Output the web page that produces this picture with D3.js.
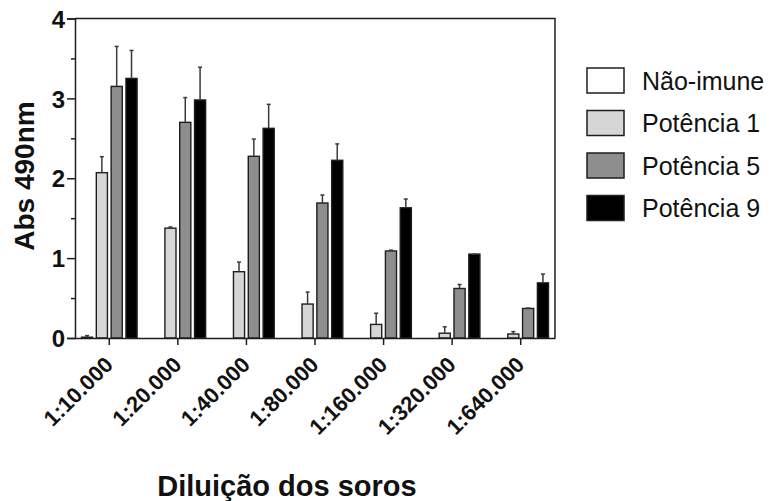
<!DOCTYPE html>
<html>
<head>
<meta charset="utf-8">
<script src="https://cdn.jsdelivr.net/npm/d3@7"></script>
<style>
  html, body { margin: 0; padding: 0; background: #fff; }
  svg { display: block; }
  text { font-family: "Liberation Sans", Arial, sans-serif; fill: #111; }
</style>
</head>
<body>
<svg id="chart" width="777" height="501"></svg>
<script>
// Dilution series on the x axis
const dilutions = ["1:10.000", "1:20.000", "1:40.000", "1:80.000", "1:160.000", "1:320.000", "1:640.000"];
// Serum groups
const groups = ["Não-imune", "Potência 1", "Potência 5", "Potência 9"];
const groupColors = ["#ffffff", "#d6d6d6", "#8e8e8e", "#000000"];

// Mean absorbance (490 nm) per group, one value per dilution
const meanNaoImune = [0.01, 0, 0, 0, 0, 0, 0];
const meanPot1 = [2.07, 1.375, 0.83, 0.425, 0.17, 0.06, 0.05];
const meanPot5 = [3.15, 2.70, 2.275, 1.69, 1.09, 0.62, 0.37];
const meanPot9 = [3.25, 2.98, 2.625, 2.225, 1.63, 1.05, 0.69];

// Standard deviation per group (upper error bar)
const sdNaoImune = [0.02, 0, 0, 0, 0, 0, 0];
const sdPot1 = [0.20, 0.015, 0.12, 0.15, 0.14, 0.08, 0.03];
const sdPot5 = [0.50, 0.31, 0.215, 0.10, 0.01, 0.05, 0.005];
const sdPot9 = [0.35, 0.41, 0.30, 0.205, 0.11, 0, 0.11];

const yTicks = [0, 1, 2, 3, 4];
const yMinorTicks = [0.5, 1.5, 2.5, 3.5];

const means = [meanNaoImune, meanPot1, meanPot5, meanPot9];
const sds = [sdNaoImune, sdPot1, sdPot5, sdPot9];

const rows = [];
dilutions.forEach((d, i) => {
  groups.forEach((g, j) => {
    rows.push({ dilution: d, group: g, gi: j, mean: means[j][i], sd: sds[j][i] });
  });
});

const svg = d3.select("#chart");
const plotLeft = 75, plotRight = 555, plotTop = 18.5, plotBottom = 338;
const ink = "#1e1e1e";

const x0 = d3.scaleBand().domain(dilutions).range([plotLeft, plotRight]).paddingInner(0).paddingOuter(0);
const x1 = d3.scaleBand().domain(groups).range([6.5, x0.bandwidth() - 6.5]).paddingInner(0.25).paddingOuter(0);
const y = d3.scaleLinear().domain([0, 4]).range([plotBottom, plotTop]);

// Bars
svg.append("g").selectAll("rect").data(rows).join("rect")
  .attr("x", d => x0(d.dilution) + x1(d.group))
  .attr("y", d => y(d.mean))
  .attr("width", x1.bandwidth())
  .attr("height", d => plotBottom - y(d.mean))
  .attr("fill", d => groupColors[d.gi])
  .attr("stroke", ink)
  .attr("stroke-width", 1.4);

// Upper error bars
const eb = svg.append("g").attr("stroke", "#3a3a3a").attr("stroke-width", 1.5);
rows.filter(d => d.sd > 0 || d.mean > 0).forEach(d => {
  const cx = x0(d.dilution) + x1(d.group) + x1.bandwidth() / 2;
  eb.append("line").attr("x1", cx).attr("x2", cx).attr("y1", y(d.mean)).attr("y2", y(d.mean + d.sd));
  eb.append("line").attr("x1", cx - 2).attr("x2", cx + 2).attr("y1", y(d.mean + d.sd)).attr("y2", y(d.mean + d.sd));
});

// Frame (top and right)
svg.append("path")
  .attr("d", `M${plotLeft},${plotTop}H${plotRight}V${plotBottom}`)
  .attr("fill", "none").attr("stroke", ink).attr("stroke-width", 1.5);

// Y axis
const yAxis = svg.append("g").attr("transform", `translate(${plotLeft},0)`)
  .call(d3.axisLeft(y).tickValues(yTicks).tickFormat(d3.format("d")).tickSize(8).tickPadding(2));
yAxis.select(".domain").attr("stroke", ink).attr("stroke-width", 1.5);
yAxis.selectAll(".tick line").attr("stroke", ink).attr("stroke-width", 1.5);
yAxis.selectAll(".tick text")
  .style("font-family", "Liberation Sans, Arial, sans-serif")
  .style("font-size", "24px").style("font-weight", "bold").attr("fill", "#111").attr("dy", "0.36em");
svg.append("g").attr("transform", `translate(${plotLeft},0)`)
  .call(d3.axisLeft(y).tickValues(yMinorTicks).tickFormat("").tickSize(4))
  .call(g => g.select(".domain").remove())
  .selectAll(".tick line").attr("stroke", ink).attr("stroke-width", 1.5);

// X axis
const xAxis = svg.append("g").attr("transform", `translate(0,${plotBottom})`)
  .call(d3.axisBottom(x0).tickSize(7).tickSizeOuter(0));
xAxis.select(".domain").attr("stroke", ink).attr("stroke-width", 1.5);
xAxis.selectAll(".tick line").attr("stroke", ink).attr("stroke-width", 1.5);
xAxis.selectAll(".tick text")
  .style("font-family", "Liberation Sans, Arial, sans-serif")
  .style("font-size", "22px").style("font-weight", "bold").attr("fill", "#111")
  .attr("text-anchor", "end")
  .attr("y", 0).attr("dy", 0)
  .attr("transform", "translate(5,28) rotate(-45)");

// Axis titles
svg.append("text")
  .attr("transform", "translate(34,176) rotate(-90)")
  .attr("text-anchor", "middle")
  .style("font-size", "28px").style("font-weight", "bold")
  .text("Abs 490nm");
svg.append("text")
  .attr("x", 287).attr("y", 496)
  .attr("text-anchor", "middle")
  .style("font-size", "29px").style("font-weight", "bold")
  .text("Diluição dos soros");

// Legend
const legend = svg.append("g").attr("transform", "translate(587,68)");
const item = legend.selectAll("g").data(groups).join("g")
  .attr("transform", (d, i) => `translate(0,${i * 42.5})`);
item.append("rect").attr("width", 37).attr("height", 25)
  .attr("fill", (d, i) => groupColors[i]).attr("stroke", ink).attr("stroke-width", 1.5);
item.append("text").attr("x", 55).attr("y", 12.5).attr("dy", "0.36em")
  .style("font-size", "25px")
  .text(d => d);
</script>
</body>
</html>
